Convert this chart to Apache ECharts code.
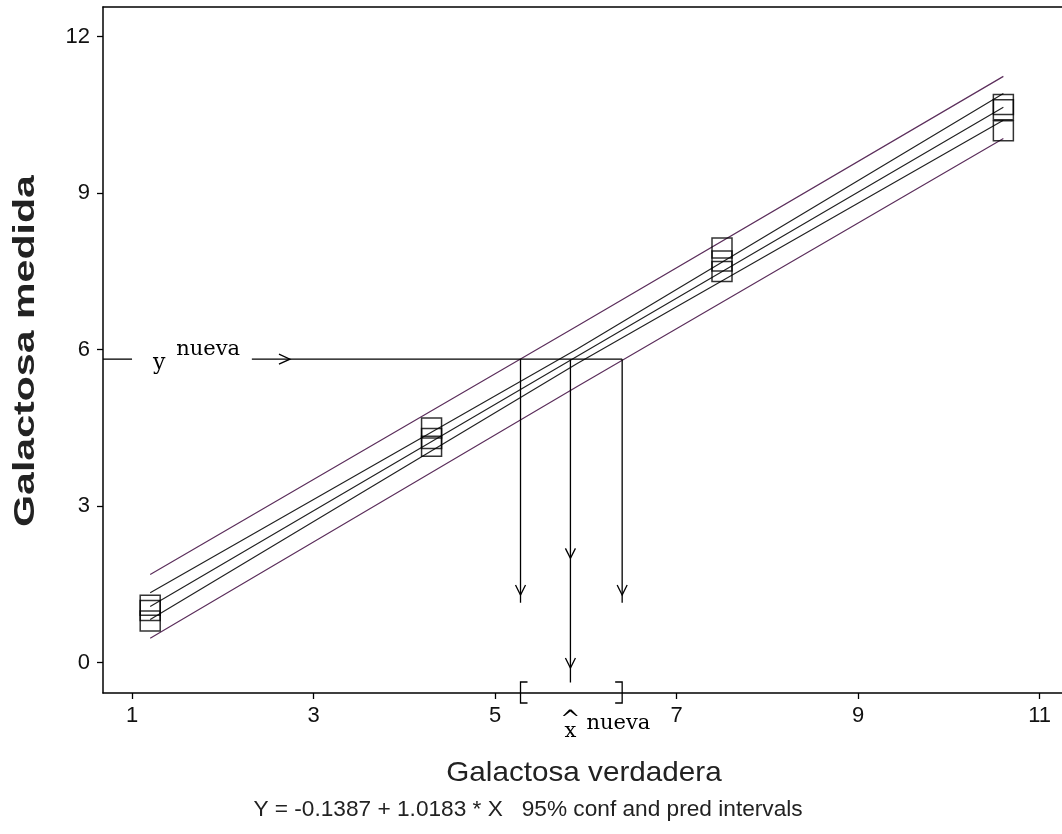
<!DOCTYPE html>
<html>
<head>
<meta charset="utf-8">
<script src="https://cdn.jsdelivr.net/npm/echarts@6/dist/echarts.min.js"></script>
<style>
html, body { margin: 0; background: #fff; }
#chart { width: 1062px; height: 834px; }
</style>
</head>
<body>
<div id="chart"></div>
<script>
// measured points (true vs measured galactose)
var trueX = [1.2, 1.2, 1.2, 4.3, 4.3, 4.3, 7.5, 7.5, 7.5, 10.6, 10.6, 10.6];
var measuredY = [0.8, 1.0, 1.1, 4.15, 4.3, 4.5, 7.5, 7.7, 7.95, 10.2, 10.6, 10.7];

// fitted line and bands, read at three x positions
var bandX = [1.2, 5.9, 10.6];
var fitY = [1.08, 5.87, 10.65];
var confUpper = [1.34, 6.01, 10.91];
var confLower = [0.83, 5.73, 10.40];
var predUpper = [1.69, 6.45, 11.24];
var predLower = [0.47, 5.29, 10.05];

var xTicks = [1, 3, 5, 7, 9, 11];
var yTicks = [0, 3, 6, 9, 12];

// inverse prediction annotation
var yNueva = 5.82;
var xNueva = [5.28, 5.83, 6.40];      // lower, estimate, upper
var arrowTipY = [1.30, -0.10, 1.30];
var arrowEndY = [1.15, -0.38, 1.15];
var midArrowY = 2.0;                  // extra head on the estimate line

var xMin = 0.68, xMax = 11.246, yMin = -0.58, yMax = 12.57;

function pairs(xs, ys) {
	var out = [];
	for (var i = 0; i < xs.length; i++) out.push([xs[i], ys[i]]);
	return out;
}

function bandSeries(ys, color) {
	return {
		type: 'line',
		data: pairs(bandX, ys),
		showSymbol: false,
		symbol: 'none',
		silent: true,
		lineStyle: { color: color, width: 1.2 },
		z: 2
	};
}

function chevronDown(p) {
	return [[p[0] - 5, p[1] - 10], [p[0], p[1]], [p[0] + 5, p[1] - 10]];
}

function renderNotes(params, api) {
	var ln = { stroke: '#000', lineWidth: 1.3, fill: null };
	var children = [];
	var left = api.coord([xMin, yNueva]);
	var p1 = api.coord([1.0, yNueva]);
	var p2 = api.coord([2.32, yNueva]);
	var p3 = api.coord([xNueva[2], yNueva]);
	var pa = api.coord([2.74, yNueva]);
	children.push({ type: 'line', shape: { x1: left[0], y1: left[1], x2: p1[0], y2: p1[1] }, style: ln });
	children.push({ type: 'line', shape: { x1: p2[0], y1: p2[1], x2: p3[0], y2: p3[1] }, style: ln });
	children.push({ type: 'polyline', shape: { points: [[pa[0] - 11, pa[1] - 5], [pa[0], pa[1]], [pa[0] - 11, pa[1] + 5]] }, style: ln });

	for (var i = 0; i < xNueva.length; i++) {
		var top = api.coord([xNueva[i], yNueva]);
		var tip = api.coord([xNueva[i], arrowTipY[i]]);
		var end = api.coord([xNueva[i], arrowEndY[i]]);
		children.push({ type: 'line', shape: { x1: top[0], y1: top[1], x2: end[0], y2: end[1] }, style: ln });
		children.push({ type: 'polyline', shape: { points: chevronDown(tip) }, style: ln });
	}
	children.push({ type: 'polyline', shape: { points: chevronDown(api.coord([xNueva[1], midArrowY])) }, style: ln });

	// bracket on the x axis
	var bl = api.coord([xNueva[0], yMin]);
	var br = api.coord([xNueva[2], yMin]);
	children.push({ type: 'polyline', shape: { points: [[bl[0] + 7, bl[1] - 11], [bl[0], bl[1] - 11], [bl[0], bl[1] + 10], [bl[0] + 7, bl[1] + 10]] }, style: ln });
	children.push({ type: 'polyline', shape: { points: [[br[0] - 7, br[1] - 11], [br[0], br[1] - 11], [br[0], br[1] + 10], [br[0] - 7, br[1] + 10]] }, style: ln });

	var serif = 'DejaVu Serif';
	var yl = api.coord([1.3, yNueva]);
	children.push({ type: 'text', x: yl[0], y: yl[1] + 4, style: { text: 'y', fontFamily: serif, fontSize: 22, fill: '#000', align: 'center', verticalAlign: 'middle' } });
	children.push({ type: 'text', x: yl[0] + 17, y: yl[1] - 10, style: { text: 'nueva', fontFamily: serif, fontSize: 21, fill: '#000', align: 'left', verticalAlign: 'middle' } });

	var xh = api.coord([xNueva[1], yMin]);
	children.push({ type: 'text', x: xh[0], y: xh[1] + 28, style: { text: '^', fontFamily: serif, fontSize: 24, fill: '#000', align: 'center', verticalAlign: 'middle' } });
	children.push({ type: 'text', x: xh[0], y: xh[1] + 39, style: { text: 'x', fontFamily: serif, fontSize: 21, fill: '#000', align: 'center', verticalAlign: 'middle' } });
	children.push({ type: 'text', x: xh[0] + 16, y: xh[1] + 31, style: { text: 'nueva', fontFamily: serif, fontSize: 21, fill: '#000', align: 'left', verticalAlign: 'middle' } });

	return { type: 'group', children: children };
}

var chart = echarts.init(document.getElementById('chart'));
var axisLineStyle = { color: '#000', width: 1.5 };
var option = {
	backgroundColor: '#fff',
	animation: false,
	grid: { left: 103, top: 7, right: 0, height: 686 },
	xAxis: [{
		type: 'value', min: xMin, max: xMax,
		splitLine: { show: false },
		axisLine: { onZero: false, lineStyle: axisLineStyle },
		axisTick: { customValues: xTicks, length: 6, lineStyle: { color: '#000', width: 1.3 } },
		axisLabel: { customValues: xTicks, margin: 12, fontFamily: 'Liberation Sans', fontSize: 22, color: '#111' }
	}, {
		// top frame line only
		type: 'value', position: 'top', min: xMin, max: xMax,
		splitLine: { show: false },
		axisLine: { onZero: false, lineStyle: axisLineStyle },
		axisTick: { show: false },
		axisLabel: { show: false }
	}],
	yAxis: {
		type: 'value', min: yMin, max: yMax,
		splitLine: { show: false },
		axisLine: { onZero: false, lineStyle: axisLineStyle },
		axisTick: { customValues: yTicks, length: 6, lineStyle: { color: '#000', width: 1.3 } },
		axisLabel: { customValues: yTicks, margin: 13, fontFamily: 'Liberation Sans', fontSize: 22, color: '#111' }
	},
	graphic: [
		{ type: 'text', x: 584, y: 773, scaleX: 1.06, style: { text: 'Galactosa verdadera', fontFamily: 'Liberation Sans', fontSize: 28, fill: '#222', align: 'center', verticalAlign: 'middle' } },
		{ type: 'text', x: 528, y: 810, scaleX: 1.03, style: { text: 'Y = -0.1387 + 1.0183 * X   95% conf and pred intervals', fontFamily: 'Liberation Sans', fontSize: 22, fill: '#222', align: 'center', verticalAlign: 'middle' } },
		{ type: 'text', x: 26, y: 351, rotation: Math.PI / 2, scaleX: 1.37, style: { text: 'Galactosa medida', fontFamily: 'Liberation Sans', fontWeight: 'bold', fontSize: 30, fill: '#222', align: 'center', verticalAlign: 'middle' } }
	],
	series: [
		bandSeries(predUpper, '#5c2f5c'),
		bandSeries(predLower, '#5c2f5c'),
		bandSeries(confUpper, '#222'),
		bandSeries(confLower, '#222'),
		bandSeries(fitY, '#222'),
		{
			type: 'scatter',
			data: pairs(trueX, measuredY),
			symbol: 'rect',
			symbolSize: 20,
			itemStyle: { color: 'rgba(0,0,0,0)', borderColor: '#000', borderWidth: 1.5 },
			z: 3
		},
		{
			type: 'custom',
			data: [[0, 0]],
			renderItem: renderNotes,
			silent: true,
			z: 4
		}
	]
};
chart.setOption(option);
</script>
</body>
</html>
